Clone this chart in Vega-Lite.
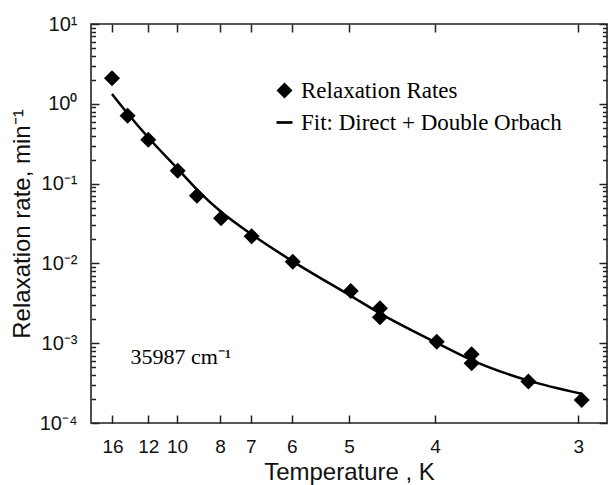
{
  "$schema": "https://vega.github.io/schema/vega-lite/v6.json",
  "width": 516,
  "height": 399,
  "autosize": "none",
  "padding": {"left": 91, "top": 24, "right": 1, "bottom": 62},
  "background": "white",
  "config": {
    "view": {"stroke": "#222", "strokeWidth": 1.6},
    "axis": {
      "domain": false,
      "grid": false,
      "tickColor": "#222",
      "tickWidth": 1.5,
      "labelFont": "Liberation Sans",
      "titleFont": "Liberation Sans",
      "labelColor": "#111",
      "titleColor": "#111",
      "titleFontWeight": "normal",
      "labelOverlap": false,
      "labelFlush": false
    }
  },
  "datasets": {
    "rates": [
      {"invT": 0.0622, "rate": 2.09, "series": "Relaxation Rates"},
      {"invT": 0.0713, "rate": 0.71, "series": "Relaxation Rates"},
      {"invT": 0.0833, "rate": 0.355, "series": "Relaxation Rates"},
      {"invT": 0.1004, "rate": 0.145, "series": "Relaxation Rates"},
      {"invT": 0.1116, "rate": 0.0706, "series": "Relaxation Rates"},
      {"invT": 0.1256, "rate": 0.0367, "series": "Relaxation Rates"},
      {"invT": 0.1434, "rate": 0.0219, "series": "Relaxation Rates"},
      {"invT": 0.1673, "rate": 0.0105, "series": "Relaxation Rates"},
      {"invT": 0.2010, "rate": 0.00451, "series": "Relaxation Rates"},
      {"invT": 0.2180, "rate": 0.00274, "series": "Relaxation Rates"},
      {"invT": 0.2180, "rate": 0.00211, "series": "Relaxation Rates"},
      {"invT": 0.2510, "rate": 0.00104, "series": "Relaxation Rates"},
      {"invT": 0.2713, "rate": 0.000726, "series": "Relaxation Rates"},
      {"invT": 0.2713, "rate": 0.00056, "series": "Relaxation Rates"},
      {"invT": 0.3043, "rate": 0.00033, "series": "Relaxation Rates"},
      {"invT": 0.3353, "rate": 0.000194, "series": "Relaxation Rates"}
    ],
    "fit": [
      {"invT": 0.0622, "rate": 1.33},
      {"invT": 0.0713, "rate": 0.757},
      {"invT": 0.0833, "rate": 0.378},
      {"invT": 0.1004, "rate": 0.153},
      {"invT": 0.1116, "rate": 0.0842},
      {"invT": 0.1256, "rate": 0.0443},
      {"invT": 0.1434, "rate": 0.0231},
      {"invT": 0.1673, "rate": 0.0106},
      {"invT": 0.2010, "rate": 0.00392},
      {"invT": 0.2180, "rate": 0.00237},
      {"invT": 0.2510, "rate": 0.00101},
      {"invT": 0.2713, "rate": 0.000615},
      {"invT": 0.3043, "rate": 0.00034},
      {"invT": 0.3353, "rate": 0.000233}
    ]
  },
  "resolve": {"axis": {"x": "independent", "y": "independent"}},
  "layer": [
    {
      "data": {"name": "rates"},
      "mark": {"type": "point", "filled": true, "color": "black", "size": 256, "opacity": 1},
      "encoding": {
        "x": {
          "field": "invT", "type": "quantitative",
          "scale": {"domain": [0.05, 0.35], "nice": false, "zero": false},
          "axis": {
            "orient": "bottom",
            "values": [0.0625, 0.0833333, 0.1, 0.125, 0.1428571, 0.1666667, 0.2, 0.25, 0.3333333],
            "labelExpr": "round(1/datum.value)",
            "tickSize": -8,
            "labelPadding": 22,
            "labelFontSize": 19,
            "title": "Temperature , K",
            "titleFontSize": 24,
            "titlePadding": 4
          }
        },
        "y": {
          "field": "rate", "type": "quantitative",
          "scale": {"type": "log", "domain": [0.0001, 10], "nice": false},
          "axis": {
            "orient": "left",
            "values": [0.0001, 0.001, 0.01, 0.1, 1, 10],
            "labelExpr": "datum.value >= 5 ? '10¹' : datum.value >= 0.5 ? '10⁰' : datum.value >= 0.05 ? '10⁻¹' : datum.value >= 0.005 ? '10⁻²' : datum.value >= 0.0005 ? '10⁻³' : '10⁻⁴'",
            "tickSize": -8,
            "labelPadding": 22,
            "labelFontSize": 20,
            "title": "Relaxation rate, min⁻¹",
            "titleFontSize": 24,
            "titlePadding": 5
          }
        },
        "shape": {
          "field": "series", "type": "nominal",
          "scale": {"domain": ["Relaxation Rates", "Fit: Direct + Double Orbach"], "range": ["diamond", "M-1,-0.17L1,-0.17L1,0.17L-1,0.17Z"]},
          "legend": {
            "orient": "none",
            "legendX": 182,
            "legendY": 55,
            "title": null,
            "padding": 0,
            "labelFont": "Liberation Serif",
            "labelFontSize": 23,
            "labelColor": "black",
            "labelLimit": 0,
            "symbolSize": 256,
            "labelOffset": 5,
            "rowPadding": 8,
            "symbolFillColor": "black",
            "symbolStrokeColor": "black",
            "symbolStrokeWidth": 0,
            "symbolOpacity": 1
          }
        }
      }
    },
    {
      "data": {"name": "fit"},
      "mark": {"type": "line", "color": "black", "strokeWidth": 2.5, "interpolate": "monotone"},
      "encoding": {
        "x": {
          "field": "invT", "type": "quantitative",
          "axis": {
            "orient": "top",
            "values": [0.0625, 0.0833333, 0.1, 0.125, 0.1428571, 0.1666667, 0.2, 0.25, 0.3333333],
            "labels": false,
            "tickSize": -8,
            "title": null
          }
        },
        "y": {
          "field": "rate", "type": "quantitative",
          "axis": {
            "orient": "right",
            "values": [0.0001, 0.001, 0.01, 0.1, 1, 10],
            "labels": false,
            "tickSize": -8,
            "title": null
          }
        }
      }
    },
    {
      "data": {"name": "fit"},
      "mark": {"type": "point", "opacity": 0},
      "encoding": {
        "x": {"field": "invT", "type": "quantitative", "axis": null},
        "y": {
          "field": "rate", "type": "quantitative",
          "axis": {
            "orient": "left",
            "values": [0.0002, 0.0003, 0.0004, 0.0005, 0.0006, 0.0007, 0.0008, 0.0009, 0.002, 0.003, 0.004, 0.005, 0.006, 0.007, 0.008, 0.009, 0.02, 0.03, 0.04, 0.05, 0.06, 0.07, 0.08, 0.09, 0.2, 0.3, 0.4, 0.5, 0.6, 0.7, 0.8, 0.9, 2, 3, 4, 5, 6, 7, 8, 9],
            "labels": false,
            "tickSize": -4.5,
            "title": null
          }
        }
      }
    },
    {
      "data": {"name": "fit"},
      "mark": {"type": "point", "opacity": 0},
      "encoding": {
        "x": {"field": "invT", "type": "quantitative", "axis": null},
        "y": {
          "field": "rate", "type": "quantitative",
          "axis": {
            "orient": "right",
            "values": [0.0002, 0.0003, 0.0004, 0.0005, 0.0006, 0.0007, 0.0008, 0.0009, 0.002, 0.003, 0.004, 0.005, 0.006, 0.007, 0.008, 0.009, 0.02, 0.03, 0.04, 0.05, 0.06, 0.07, 0.08, 0.09, 0.2, 0.3, 0.4, 0.5, 0.6, 0.7, 0.8, 0.9, 2, 3, 4, 5, 6, 7, 8, 9],
            "labels": false,
            "tickSize": -4.5,
            "title": null
          }
        }
      }
    },
    {
      "data": {"values": [{"label": "35987 cm⁻¹"}]},
      "mark": {"type": "text", "font": "Liberation Serif", "fontSize": 22, "align": "left", "baseline": "alphabetic", "color": "black"},
      "encoding": {
        "x": {"datum": 0.0729, "type": "quantitative", "axis": null},
        "y": {"datum": 0.000548, "type": "quantitative", "axis": null},
        "text": {"field": "label", "type": "nominal"}
      }
    }
  ]
}
